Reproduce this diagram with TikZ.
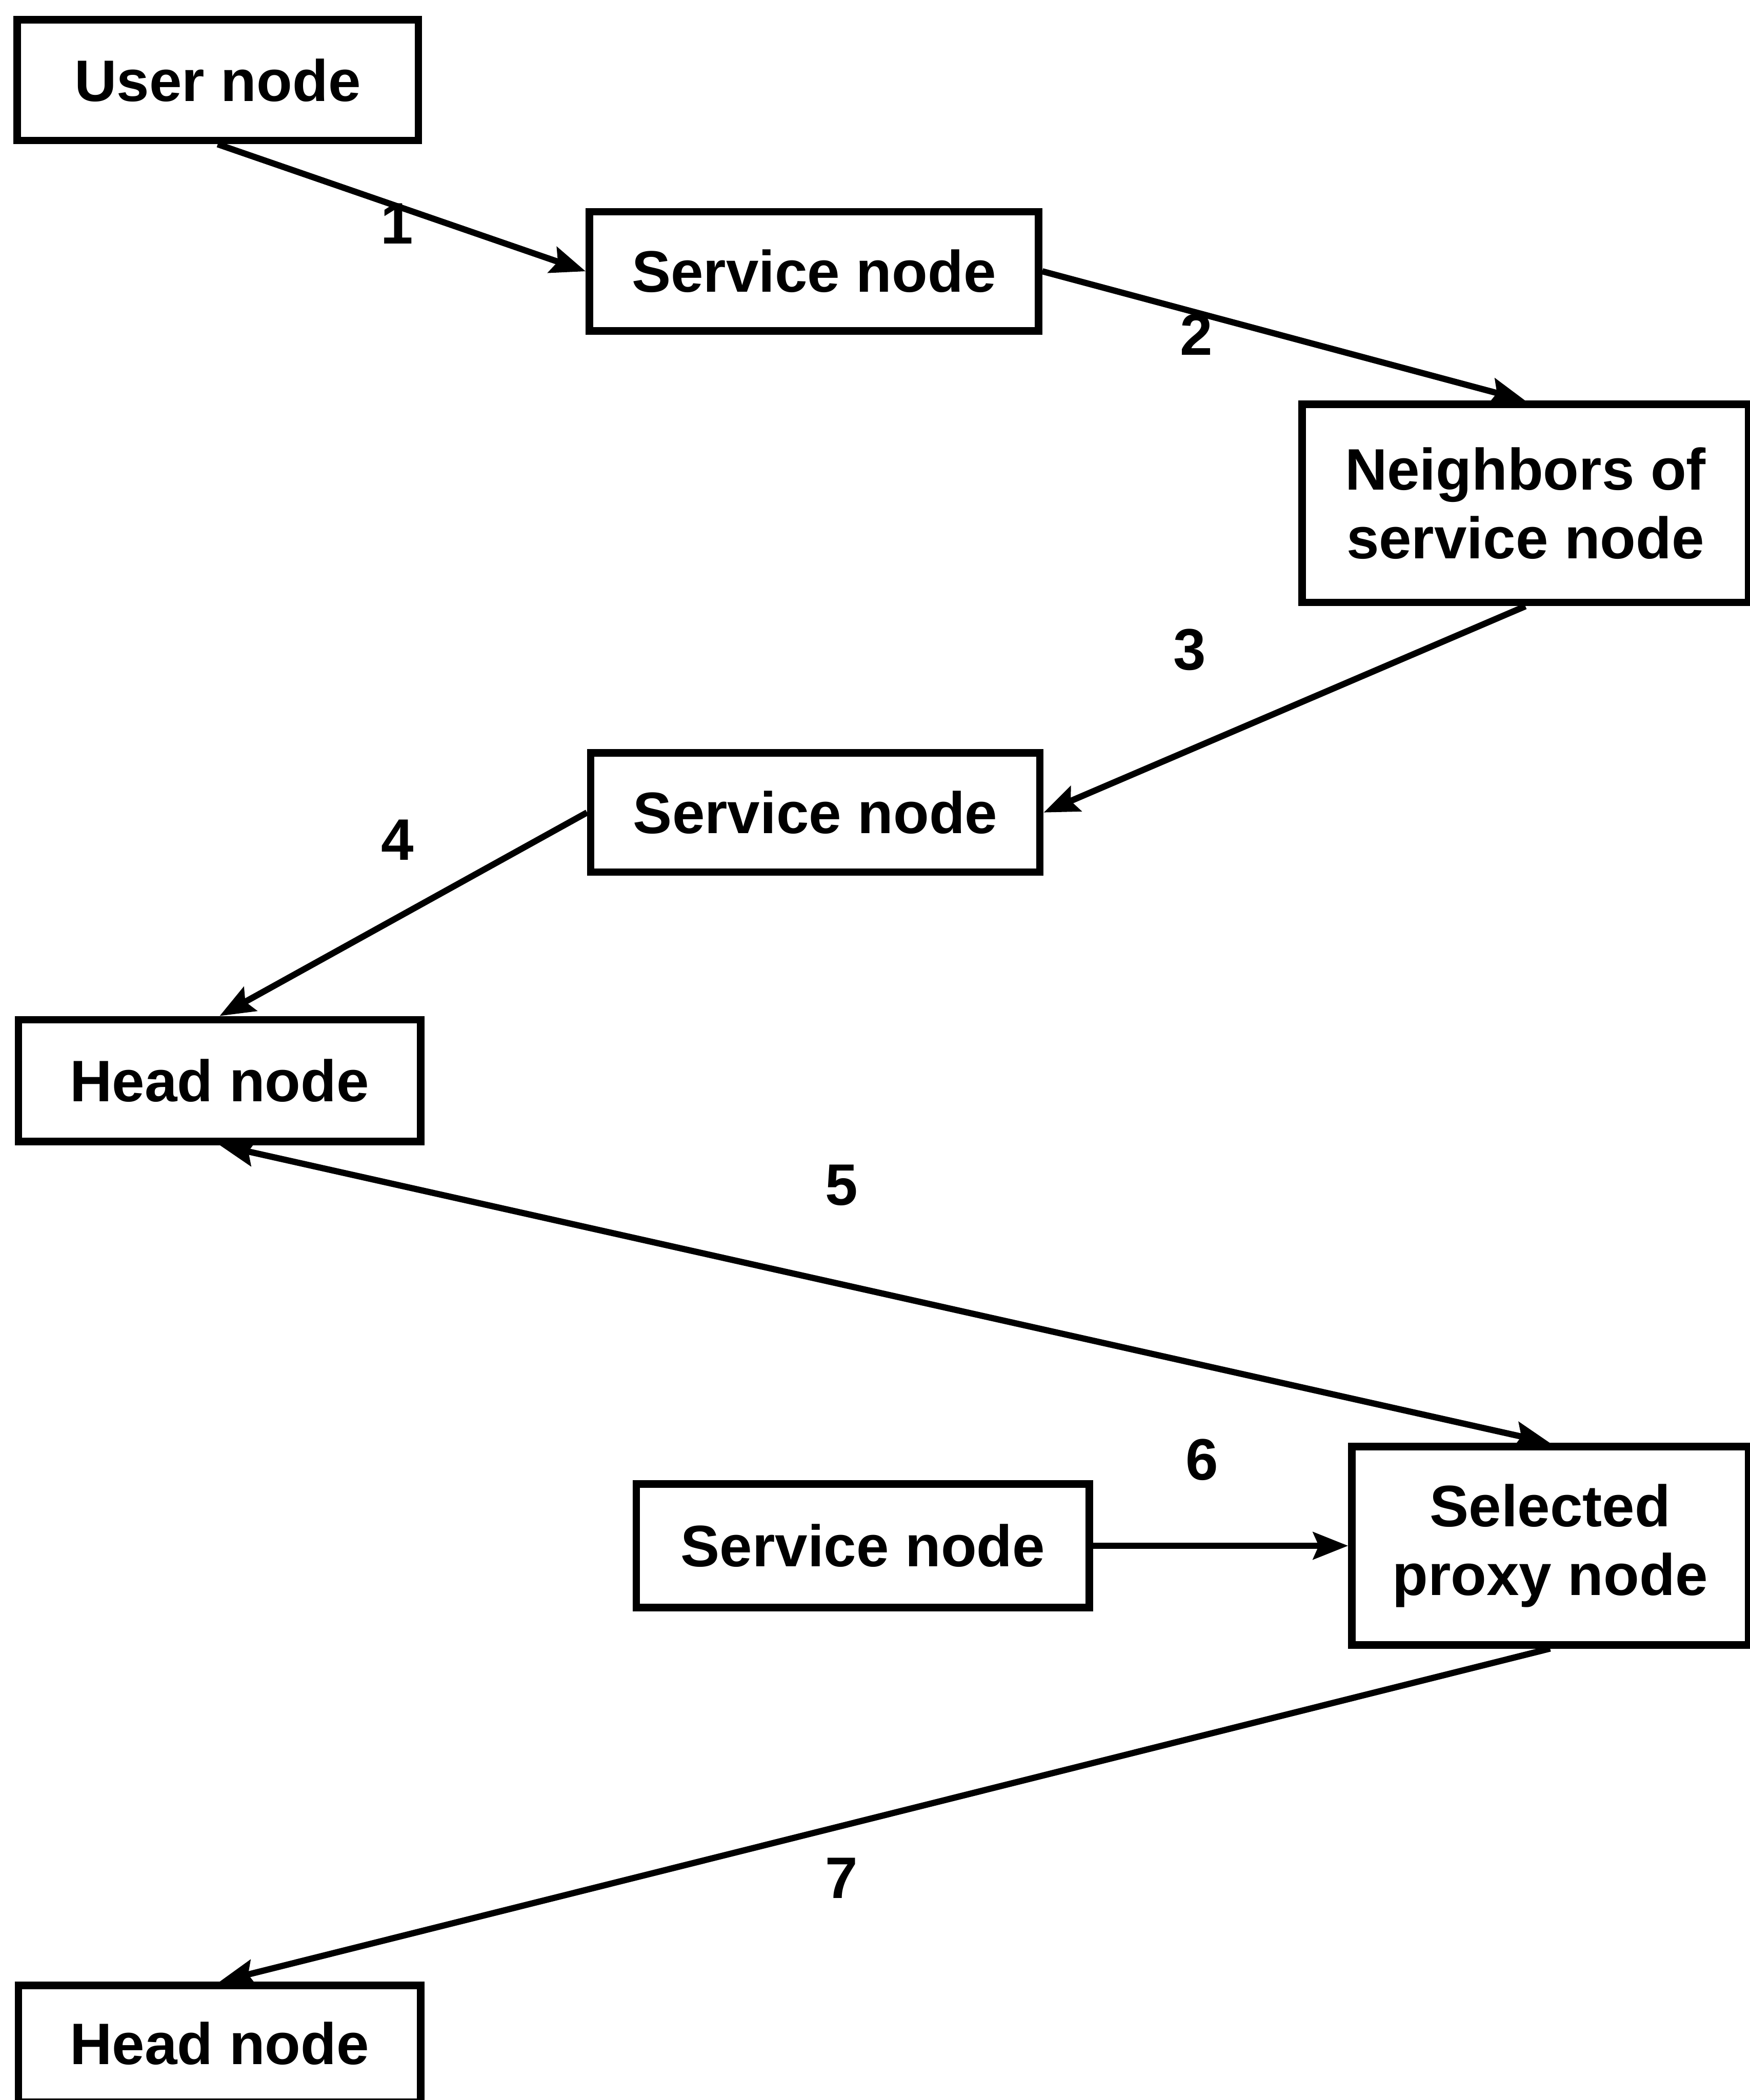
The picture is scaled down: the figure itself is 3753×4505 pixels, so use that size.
\documentclass[tikz,border=0pt]{standalone}
\usepackage{fontspec}
\setmainfont{Liberation Sans}
\usetikzlibrary{arrows.meta}
\begin{document}
\begin{tikzpicture}[x=0.01cm, y=-0.01cm,
  box/.style={draw, line width=4.5pt, align=center, inner sep=0pt,
    font=\fontsize{35.7pt}{41.8pt}\selectfont\bfseries},
  steplabel/.style={inner sep=0pt, font=\fontsize{35.7pt}{41.8pt}\selectfont\bfseries},
  tip/.style={Stealth[length=0.75cm, width=0.58cm, inset=0.12cm]},
  flow/.style={line width=3.8pt, -{Stealth[length=0.75cm, width=0.58cm, inset=0.12cm]}},
  both/.style={line width=3.8pt, {Stealth[length=0.75cm, width=0.58cm, inset=0.12cm]}-{Stealth[length=0.75cm, width=0.58cm, inset=0.12cm]}}]
  \useasboundingbox (0,0) rectangle (3753,4505);

  % boxes
  \node[box, minimum width=8.6cm, minimum height=2.59cm] (user) at (467,172) {User node};
  \node[box, minimum width=9.63cm, minimum height=2.56cm] (svcA) at (1746,582) {Service node};
  \node[box, minimum width=9.57cm, minimum height=4.25cm] (neigh) at (3272,1080) {Neighbors of\\service node};
  \node[box, minimum width=9.63cm, minimum height=2.56cm] (svcB) at (1749,1743) {Service node};
  \node[box, minimum width=8.62cm, minimum height=2.61cm] (headA) at (471,2318) {Head node};
  \node[box, minimum width=8.5cm, minimum height=4.25cm] (proxy) at (3325,3316) {Selected\\proxy node};
  \node[box, minimum width=9.71cm, minimum height=2.65cm] (svcC) at (1851,3316) {Service node};
  \node[box, minimum width=8.62cm, minimum height=2.5cm] (headB) at (471,4384) {Head node};

  % connectors
  \draw[flow] (user.south) -- (svcA.west);
  \draw[flow] (svcA.east) -- (neigh.north);
  \draw[flow] (neigh.south) -- (svcB.east);
  \draw[flow] (svcB.west) -- (headA.north);
  \draw[both] (headA.south) -- (proxy.north);
  \draw[flow] (svcC.east) -- (proxy.west);
  \draw[flow] (proxy.south) -- (headB.north);

  % step numbers
  \node[steplabel] (n1) at (851,480) {1};
  \node[steplabel] (n2) at (2566,718) {2};
  \node[steplabel] (n3) at (2552,1394) {3};
  \node[steplabel] (n4) at (853,1802) {4};
  \node[steplabel] (n5) at (1805,2543) {5};
  \node[steplabel] (n6) at (2578,3132) {6};
  \node[steplabel] (n7) at (1805,4029) {7};
\end{tikzpicture}
\end{document}
